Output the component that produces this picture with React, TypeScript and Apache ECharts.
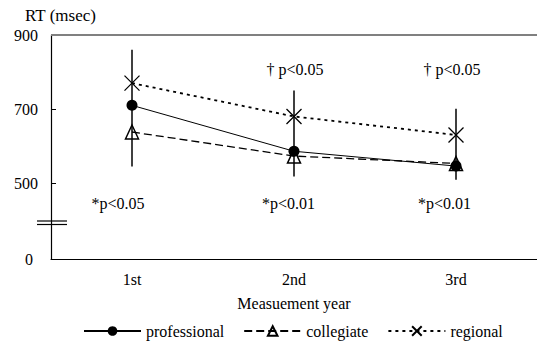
import React, { useEffect, useRef } from "react";
import * as echarts from "echarts";

const categories = ["1st", "2nd", "3rd"];
const professional = [710, 586, 546];
const collegiate = [638, 573, 553];
const regional = [770, 680, 630];
const errLow = [545, 518, 509];
const errHigh = [860, 750, 701];
const yTickLabels = [0, 500, 700, 900];
const yTickMarks = [500, 700];
const lowerNotes = ["*p<0.05", "*p<0.01", "*p<0.01"];
const upperNotes = ["", "\u2020 p<0.05", "\u2020 p<0.05"];

// broken axis: values from 500 up are shown at true scale, 0..500 compressed
const BREAK = 500;
const OFFSET = 295;
const LOW_SPAN = BREAK - OFFSET;
const toDisplay = (v: number) => (v >= BREAK ? v - OFFSET : (v * LOW_SPAN) / BREAK);
const fromDisplay = (d: number) => (d >= LOW_SPAN - 0.001 ? d + OFFSET : (d * BREAK) / LOW_SPAN);

const FONT = "Liberation Serif";

export default function App() {
  const ref = useRef<HTMLDivElement>(null);
  useEffect(() => {
    if (!ref.current) return;
    const chart = echarts.init(ref.current, null, { renderer: "svg" });
    const lowerX = [118, 288.5, 444.5];
    const upperX = [0, 295, 452];
    const txt = (text: string, x: number, y: number) => ({
      type: "text",
      x,
      y,
      style: {
        text,
        fontFamily: FONT,
        fontSize: 16,
        fill: "#000",
        align: "center",
        verticalAlign: "middle",
      },
    });
    const graphics: any[] = [
      {
        type: "text",
        x: 25,
        y: 15,
        style: { text: "RT (msec)", fontFamily: FONT, fontSize: 17, fill: "#000", verticalAlign: "middle" },
      },
      { type: "line", shape: { x1: 37, y1: 221, x2: 67, y2: 221 }, style: { stroke: "#000", lineWidth: 1.2 }, z: 10 },
      { type: "line", shape: { x1: 37, y1: 224.5, x2: 67, y2: 224.5 }, style: { stroke: "#000", lineWidth: 1.2 }, z: 10 },
    ];
    lowerNotes.forEach((t, i) => {
      if (t) graphics.push(txt(t, lowerX[i], 203));
    });
    upperNotes.forEach((t, i) => {
      if (t) graphics.push(txt(t, upperX[i], 69));
    });

    const option: any = {
      animation: false,
      textStyle: { fontFamily: FONT, color: "#000" },
      grid: { left: 51, right: -4, top: 35, bottom: 90 },
      legend: {
        left: 78,
        top: 318,
        itemWidth: 57,
        itemHeight: 12,
        itemGap: 19,
        textStyle: { fontFamily: FONT, fontSize: 16, color: "#000" },
        data: ["professional", "collegiate", "regional"],
      },
      xAxis: {
        type: "category",
        data: categories,
        name: "Measuement year",
        nameLocation: "middle",
        nameGap: 36,
        nameTextStyle: { fontFamily: FONT, fontSize: 16, color: "#000" },
        axisLine: { lineStyle: { color: "#000", width: 1 } },
        axisTick: { inside: true, length: 4, lineStyle: { color: "#000" } },
        axisLabel: { fontFamily: FONT, fontSize: 16, color: "#000", margin: 12 },
        splitLine: { show: false },
      },
      yAxis: {
        type: "value",
        min: 0,
        max: toDisplay(900),
        axisLine: { show: true, lineStyle: { color: "#000", width: 1.2 } },
        axisTick: {
          show: true,
          inside: true,
          length: 5,
          customValues: yTickMarks.map(toDisplay),
          lineStyle: { color: "#000" },
        },
        axisLabel: {
          fontFamily: FONT,
          fontSize: 16,
          color: "#000",
          margin: 13,
          customValues: yTickLabels.map(toDisplay),
          formatter: (d: number) => {
            const v = Math.round(fromDisplay(d));
            return v === 0 ? "{z|0}" : String(v);
          },
          rich: { z: { fontFamily: FONT, fontSize: 16, color: "#000", padding: [0, 5, 0, 0] } },
        },
        splitLine: { show: false },
      },
      graphic: graphics,
      series: [
        {
          type: "custom",
          name: "err",
          z: 1,
          renderItem: (params: any, api: any) => {
            const x = api.value(0);
            const lo = api.coord([x, api.value(1)]);
            const hi = api.coord([x, api.value(2)]);
            return {
              type: "line",
              shape: { x1: lo[0], y1: lo[1], x2: hi[0], y2: hi[1] },
              style: { stroke: "#000", lineWidth: 1.5 },
            };
          },
          encode: { x: 0, y: [1, 2] },
          data: categories.map((_, i) => [i, toDisplay(errLow[i]), toDisplay(errHigh[i])]),
          markLine: {
            silent: true,
            symbol: "none",
            label: { show: false },
            lineStyle: { color: "#808080", width: 2, type: "solid" },
            data: [{ yAxis: toDisplay(900) }],
          },
        },
        {
          type: "line",
          name: "regional",
          z: 2,
          data: regional.map(toDisplay),
          symbol: "path://M0,0L10,10M10,0L0,10",
          symbolSize: 15,
          itemStyle: { color: "rgba(0,0,0,0)", borderColor: "#000", borderWidth: 1.3 },
          lineStyle: { color: "#000", width: 1.8, type: [3, 4] },
        },
        {
          type: "line",
          name: "collegiate",
          z: 3,
          data: collegiate.map(toDisplay),
          symbol: "triangle",
          symbolSize: [13, 14],
          itemStyle: { color: "rgba(0,0,0,0)", borderColor: "#000", borderWidth: 1.5 },
          lineStyle: { color: "#000", width: 1.3, type: [8, 4] },
        },
        {
          type: "line",
          name: "professional",
          z: 4,
          data: professional.map(toDisplay),
          symbol: "circle",
          symbolSize: 11,
          itemStyle: { color: "#000", borderColor: "#000", borderWidth: 0 },
          lineStyle: { color: "#000", width: 1 },
        },
      ],
    };
    chart.setOption(option);
    return () => chart.dispose();
  }, []);
  return <div ref={ref} style={{ position: "absolute", left: 0, top: 0, width: 537, height: 349 }} />;
}
